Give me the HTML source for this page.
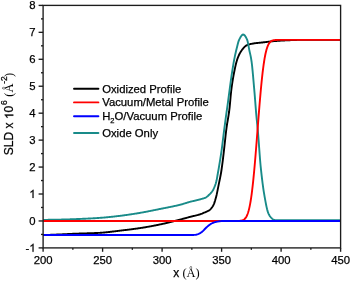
<!DOCTYPE html>
<html><head><meta charset="utf-8"><style>
html,body{margin:0;padding:0;background:#fff;width:350px;height:281px;overflow:hidden}
svg{display:block}
text{font-family:"Liberation Sans",sans-serif;font-size:11.3px;fill:#000}
.sf{font-family:"Liberation Serif",serif}
.tx{filter:grayscale(1)}
.tx text{stroke:#000;stroke-width:0.25px}
.tx text.sf{stroke-width:0}
</style></head><body>
<svg width="350" height="281" viewBox="0 0 350 281">
<defs><clipPath id="c"><rect x="43.1" y="5.4" width="297.5" height="242.5"/></clipPath></defs>
<g clip-path="url(#c)" fill="none" stroke-width="1.9" stroke-linejoin="round" stroke-linecap="butt">
<polyline points="43.10,235.10 43.60,235.08 44.10,235.06 44.60,235.04 45.10,235.03 45.60,235.01 46.10,234.99 46.60,234.97 47.10,234.95 47.60,234.93 48.10,234.92 48.60,234.90 49.10,234.88 49.60,234.86 50.10,234.84 50.60,234.82 51.10,234.80 51.60,234.78 52.10,234.76 52.60,234.74 53.10,234.72 53.60,234.70 54.10,234.68 54.60,234.66 55.10,234.64 55.60,234.62 56.10,234.59 56.60,234.57 57.10,234.55 57.60,234.53 58.10,234.51 58.60,234.49 59.10,234.47 59.60,234.45 60.10,234.42 60.60,234.40 61.10,234.38 61.60,234.36 62.10,234.33 62.60,234.31 63.10,234.28 63.60,234.26 64.10,234.23 64.60,234.21 65.10,234.18 65.60,234.16 66.10,234.13 66.60,234.11 67.10,234.08 67.60,234.05 68.10,234.03 68.60,234.00 69.10,233.98 69.60,233.95 70.10,233.93 70.60,233.90 71.10,233.88 71.60,233.86 72.10,233.84 72.60,233.81 73.10,233.79 73.60,233.77 74.10,233.75 74.60,233.73 75.10,233.71 75.60,233.69 76.10,233.67 76.60,233.66 77.10,233.64 77.60,233.62 78.10,233.60 78.60,233.59 79.10,233.57 79.60,233.55 80.10,233.54 80.60,233.52 81.10,233.51 81.60,233.49 82.10,233.47 82.60,233.46 83.10,233.44 83.60,233.43 84.10,233.41 84.60,233.40 85.10,233.38 85.60,233.37 86.10,233.35 86.60,233.34 87.10,233.32 87.60,233.30 88.10,233.29 88.60,233.27 89.10,233.26 89.60,233.24 90.10,233.22 90.60,233.21 91.10,233.19 91.60,233.17 92.10,233.15 92.60,233.13 93.10,233.12 93.60,233.10 94.10,233.08 94.60,233.06 95.10,233.04 95.60,233.02 96.10,233.00 96.60,232.98 97.10,232.96 97.60,232.93 98.10,232.91 98.60,232.89 99.10,232.86 99.60,232.83 100.10,232.81 100.60,232.77 101.10,232.74 101.60,232.71 102.10,232.67 102.60,232.63 103.10,232.59 103.60,232.55 104.10,232.50 104.60,232.46 105.10,232.41 105.60,232.36 106.10,232.31 106.60,232.26 107.10,232.20 107.60,232.15 108.10,232.10 108.60,232.04 109.10,231.98 109.60,231.93 110.10,231.87 110.60,231.81 111.10,231.75 111.60,231.69 112.10,231.63 112.60,231.56 113.10,231.50 113.60,231.44 114.10,231.38 114.60,231.32 115.10,231.25 115.60,231.19 116.10,231.13 116.60,231.07 117.10,231.01 117.60,230.94 118.10,230.88 118.60,230.82 119.10,230.76 119.60,230.70 120.10,230.64 120.60,230.59 121.10,230.53 121.60,230.47 122.10,230.41 122.60,230.35 123.10,230.29 123.60,230.23 124.10,230.17 124.60,230.11 125.10,230.06 125.60,230.00 126.10,229.94 126.60,229.88 127.10,229.82 127.60,229.75 128.10,229.69 128.60,229.63 129.10,229.57 129.60,229.51 130.10,229.45 130.60,229.38 131.10,229.32 131.60,229.26 132.10,229.19 132.60,229.13 133.10,229.06 133.60,229.00 134.10,228.93 134.60,228.86 135.10,228.80 135.60,228.73 136.10,228.66 136.60,228.59 137.10,228.52 137.60,228.45 138.10,228.38 138.60,228.30 139.10,228.23 139.60,228.16 140.10,228.08 140.60,228.01 141.10,227.93 141.60,227.85 142.10,227.77 142.60,227.69 143.10,227.61 143.60,227.53 144.10,227.45 144.60,227.37 145.10,227.28 145.60,227.20 146.10,227.11 146.60,227.03 147.10,226.94 147.60,226.85 148.10,226.76 148.60,226.67 149.10,226.58 149.60,226.49 150.10,226.40 150.60,226.31 151.10,226.22 151.60,226.12 152.10,226.03 152.60,225.94 153.10,225.84 153.60,225.74 154.10,225.65 154.60,225.55 155.10,225.45 155.60,225.35 156.10,225.25 156.60,225.15 157.10,225.05 157.60,224.95 158.10,224.85 158.60,224.75 159.10,224.64 159.60,224.54 160.10,224.44 160.60,224.33 161.10,224.23 161.60,224.12 162.10,224.01 162.60,223.90 163.10,223.79 163.60,223.68 164.10,223.56 164.60,223.45 165.10,223.33 165.60,223.22 166.10,223.10 166.60,222.98 167.10,222.86 167.60,222.74 168.10,222.62 168.60,222.50 169.10,222.38 169.60,222.25 170.10,222.13 170.60,222.01 171.10,221.88 171.60,221.76 172.10,221.63 172.60,221.50 173.10,221.38 173.60,221.25 174.10,221.12 174.60,221.00 175.10,220.87 175.60,220.74 176.10,220.61 176.60,220.48 177.10,220.35 177.60,220.23 178.10,220.10 178.60,219.97 179.10,219.84 179.60,219.71 180.10,219.58 180.60,219.45 181.10,219.32 181.60,219.19 182.10,219.06 182.60,218.92 183.10,218.79 183.60,218.65 184.10,218.51 184.60,218.38 185.10,218.24 185.60,218.10 186.10,217.97 186.60,217.83 187.10,217.69 187.60,217.56 188.10,217.42 188.60,217.29 189.10,217.15 189.60,217.02 190.10,216.89 190.60,216.76 191.10,216.63 191.60,216.51 192.10,216.39 192.60,216.27 193.10,216.15 193.60,216.04 194.10,215.92 194.60,215.80 195.10,215.68 195.60,215.56 196.10,215.44 196.60,215.32 197.10,215.19 197.60,215.06 198.10,214.92 198.60,214.78 199.10,214.63 199.60,214.48 200.10,214.32 200.60,214.15 201.10,213.97 201.60,213.78 202.10,213.59 202.60,213.38 203.10,213.17 203.60,212.96 204.10,212.74 204.60,212.51 205.10,212.29 205.60,212.06 206.10,211.84 206.60,211.63 207.10,211.42 207.60,211.19 208.10,210.95 208.60,210.68 209.10,210.38 209.60,210.03 210.10,209.60 210.60,209.08 211.10,208.50 211.60,207.88 212.10,207.22 212.60,206.50 213.10,205.68 213.60,204.73 214.10,203.58 214.60,202.18 215.10,200.58 215.60,198.82 216.10,196.94 216.60,194.92 217.10,192.59 217.60,190.11 218.10,187.64 218.60,185.12 219.10,182.67 219.60,180.29 220.10,177.87 220.60,175.29 221.10,172.46 221.60,169.24 222.10,165.67 222.60,161.86 223.10,157.91 223.60,153.62 224.10,149.21 224.60,144.68 225.10,140.03 225.60,135.45 226.10,131.14 226.60,127.27 227.10,123.95 227.60,120.99 228.10,118.13 228.60,115.13 229.10,111.74 229.60,107.58 230.10,102.34 230.60,96.77 231.10,91.70 231.60,87.71 232.10,84.16 232.60,80.92 233.10,77.93 233.60,75.17 234.10,72.55 234.60,70.04 235.10,67.63 235.60,65.38 236.10,63.30 236.60,61.43 237.10,59.79 237.60,58.34 238.10,57.02 238.60,55.84 239.10,54.76 239.60,53.79 240.10,52.88 240.60,52.02 241.10,51.22 241.60,50.48 242.10,49.78 242.60,49.14 243.10,48.55 243.60,47.96 244.10,47.40 244.60,46.87 245.10,46.39 245.60,45.98 246.10,45.65 246.60,45.41 247.10,45.18 247.60,44.98 248.10,44.79 248.60,44.61 249.10,44.45 249.60,44.30 250.10,44.16 250.60,44.03 251.10,43.92 251.60,43.81 252.10,43.71 252.60,43.61 253.10,43.53 253.60,43.45 254.10,43.37 254.60,43.30 255.10,43.24 255.60,43.18 256.10,43.12 256.60,43.07 257.10,43.02 257.60,42.97 258.10,42.92 258.60,42.87 259.10,42.82 259.60,42.76 260.10,42.71 260.60,42.65 261.10,42.59 261.60,42.54 262.10,42.48 262.60,42.43 263.10,42.37 263.60,42.32 264.10,42.26 264.60,42.20 265.10,42.15 265.60,42.09 266.10,42.03 266.60,41.97 267.10,41.91 267.60,41.85 268.10,41.78 268.60,41.72 269.10,41.65 269.60,41.59 270.10,41.53 270.60,41.47 271.10,41.41 271.60,41.35 272.10,41.30 272.60,41.25 273.10,41.21 273.60,41.17 274.10,41.13 274.60,41.08 275.10,41.04 275.60,41.01 276.10,40.97 276.60,40.93 277.10,40.89 277.60,40.86 278.10,40.82 278.60,40.79 279.10,40.76 279.60,40.73 280.10,40.69 280.60,40.66 281.10,40.63 281.60,40.60 282.10,40.58 282.60,40.55 283.10,40.52 283.60,40.50 284.10,40.47 284.60,40.45 285.10,40.42 285.60,40.40 286.10,40.38 286.60,40.35 287.10,40.33 287.60,40.30 288.10,40.28 288.60,40.25 289.10,40.23 289.60,40.20 290.10,40.18 290.60,40.16 291.10,40.13 291.60,40.11 292.10,40.09 292.60,40.07 293.10,40.05 293.60,40.03 294.10,40.01 294.60,39.99 295.10,39.97 295.60,39.96 296.10,39.94 296.60,39.93 297.10,39.92 297.60,39.91 298.10,39.90 298.60,39.90 299.10,39.89 299.60,39.89 300.10,39.89 300.60,39.89 301.10,39.89 301.60,39.89 302.10,39.89 302.60,39.89 303.10,39.89 303.60,39.89 304.10,39.89 304.60,39.89 305.10,39.89 305.60,39.89 306.10,39.89 306.60,39.89 307.10,39.89 307.60,39.89 308.10,39.89 308.60,39.89 309.10,39.89 309.60,39.89 310.10,39.89 310.60,39.89 311.10,39.89 311.60,39.89 312.10,39.89 312.60,39.89 313.10,39.89 313.60,39.89 314.10,39.89 314.60,39.89 315.10,39.89 315.60,39.89 316.10,39.89 316.60,39.89 317.10,39.89 317.60,39.89 318.10,39.89 318.60,39.89 319.10,39.89 319.60,39.89 320.10,39.89 320.60,39.89 321.10,39.89 321.60,39.89 322.10,39.89 322.60,39.89 323.10,39.89 323.60,39.89 324.10,39.89 324.60,39.89 325.10,39.89 325.60,39.89 326.10,39.89 326.60,39.89 327.10,39.89 327.60,39.89 328.10,39.89 328.60,39.89 329.10,39.89 329.60,39.89 330.10,39.89 330.60,39.89 331.10,39.89 331.60,39.89 332.10,39.89 332.60,39.89 333.10,39.89 333.60,39.89 334.10,39.89 334.60,39.89 335.10,39.89 335.60,39.89 336.10,39.89 336.60,39.89 337.10,39.89 337.60,39.89 338.10,39.89 338.60,39.89 339.10,39.89 339.60,39.89 340.10,39.89 340.60,39.89" stroke="#000" />
<polyline points="43.10,219.88 43.60,219.87 44.10,219.87 44.60,219.86 45.10,219.86 45.60,219.85 46.10,219.85 46.60,219.84 47.10,219.84 47.60,219.83 48.10,219.82 48.60,219.82 49.10,219.81 49.60,219.80 50.10,219.79 50.60,219.79 51.10,219.78 51.60,219.77 52.10,219.76 52.60,219.75 53.10,219.74 53.60,219.74 54.10,219.73 54.60,219.72 55.10,219.71 55.60,219.70 56.10,219.69 56.60,219.68 57.10,219.67 57.60,219.66 58.10,219.65 58.60,219.64 59.10,219.63 59.60,219.62 60.10,219.61 60.60,219.60 61.10,219.58 61.60,219.57 62.10,219.56 62.60,219.55 63.10,219.53 63.60,219.52 64.10,219.51 64.60,219.49 65.10,219.48 65.60,219.46 66.10,219.45 66.60,219.43 67.10,219.42 67.60,219.40 68.10,219.39 68.60,219.37 69.10,219.35 69.60,219.34 70.10,219.32 70.60,219.30 71.10,219.28 71.60,219.26 72.10,219.25 72.60,219.23 73.10,219.21 73.60,219.19 74.10,219.17 74.60,219.15 75.10,219.13 75.60,219.11 76.10,219.09 76.60,219.07 77.10,219.05 77.60,219.03 78.10,219.01 78.60,218.99 79.10,218.97 79.60,218.95 80.10,218.93 80.60,218.91 81.10,218.89 81.60,218.87 82.10,218.85 82.60,218.82 83.10,218.80 83.60,218.78 84.10,218.76 84.60,218.73 85.10,218.71 85.60,218.69 86.10,218.66 86.60,218.64 87.10,218.62 87.60,218.59 88.10,218.57 88.60,218.54 89.10,218.51 89.60,218.49 90.10,218.46 90.60,218.44 91.10,218.41 91.60,218.38 92.10,218.35 92.60,218.33 93.10,218.30 93.60,218.27 94.10,218.24 94.60,218.21 95.10,218.18 95.60,218.15 96.10,218.12 96.60,218.08 97.10,218.05 97.60,218.02 98.10,217.99 98.60,217.95 99.10,217.92 99.60,217.88 100.10,217.85 100.60,217.81 101.10,217.78 101.60,217.74 102.10,217.70 102.60,217.66 103.10,217.62 103.60,217.58 104.10,217.54 104.60,217.49 105.10,217.45 105.60,217.40 106.10,217.36 106.60,217.31 107.10,217.26 107.60,217.21 108.10,217.16 108.60,217.11 109.10,217.06 109.60,217.01 110.10,216.96 110.60,216.91 111.10,216.86 111.60,216.80 112.10,216.75 112.60,216.69 113.10,216.64 113.60,216.58 114.10,216.53 114.60,216.47 115.10,216.41 115.60,216.36 116.10,216.30 116.60,216.24 117.10,216.18 117.60,216.12 118.10,216.06 118.60,216.00 119.10,215.94 119.60,215.88 120.10,215.82 120.60,215.76 121.10,215.70 121.60,215.64 122.10,215.58 122.60,215.51 123.10,215.45 123.60,215.38 124.10,215.31 124.60,215.25 125.10,215.18 125.60,215.11 126.10,215.04 126.60,214.97 127.10,214.90 127.60,214.83 128.10,214.76 128.60,214.68 129.10,214.61 129.60,214.53 130.10,214.46 130.60,214.38 131.10,214.31 131.60,214.23 132.10,214.15 132.60,214.08 133.10,214.00 133.60,213.92 134.10,213.84 134.60,213.76 135.10,213.68 135.60,213.60 136.10,213.52 136.60,213.44 137.10,213.36 137.60,213.27 138.10,213.19 138.60,213.11 139.10,213.02 139.60,212.94 140.10,212.86 140.60,212.77 141.10,212.68 141.60,212.60 142.10,212.51 142.60,212.42 143.10,212.33 143.60,212.24 144.10,212.15 144.60,212.05 145.10,211.96 145.60,211.86 146.10,211.77 146.60,211.67 147.10,211.58 147.60,211.48 148.10,211.38 148.60,211.28 149.10,211.18 149.60,211.08 150.10,210.98 150.60,210.88 151.10,210.78 151.60,210.68 152.10,210.58 152.60,210.48 153.10,210.37 153.60,210.27 154.10,210.17 154.60,210.07 155.10,209.96 155.60,209.86 156.10,209.76 156.60,209.66 157.10,209.56 157.60,209.45 158.10,209.35 158.60,209.25 159.10,209.15 159.60,209.05 160.10,208.95 160.60,208.84 161.10,208.74 161.60,208.65 162.10,208.55 162.60,208.45 163.10,208.35 163.60,208.25 164.10,208.15 164.60,208.06 165.10,207.96 165.60,207.86 166.10,207.77 166.60,207.67 167.10,207.57 167.60,207.47 168.10,207.37 168.60,207.28 169.10,207.18 169.60,207.08 170.10,206.98 170.60,206.88 171.10,206.78 171.60,206.67 172.10,206.57 172.60,206.47 173.10,206.36 173.60,206.26 174.10,206.15 174.60,206.04 175.10,205.93 175.60,205.82 176.10,205.71 176.60,205.60 177.10,205.48 177.60,205.37 178.10,205.25 178.60,205.13 179.10,205.01 179.60,204.89 180.10,204.76 180.60,204.63 181.10,204.50 181.60,204.36 182.10,204.22 182.60,204.07 183.10,203.92 183.60,203.77 184.10,203.61 184.60,203.45 185.10,203.30 185.60,203.14 186.10,202.98 186.60,202.82 187.10,202.67 187.60,202.52 188.10,202.36 188.60,202.22 189.10,202.07 189.60,201.93 190.10,201.80 190.60,201.67 191.10,201.54 191.60,201.42 192.10,201.30 192.60,201.18 193.10,201.06 193.60,200.95 194.10,200.84 194.60,200.72 195.10,200.61 195.60,200.50 196.10,200.38 196.60,200.27 197.10,200.15 197.60,200.03 198.10,199.91 198.60,199.78 199.10,199.65 199.60,199.51 200.10,199.37 200.60,199.23 201.10,199.10 201.60,198.96 202.10,198.82 202.60,198.67 203.10,198.52 203.60,198.36 204.10,198.19 204.60,198.00 205.10,197.79 205.60,197.56 206.10,197.30 206.60,196.98 207.10,196.61 207.60,196.20 208.10,195.76 208.60,195.29 209.10,194.81 209.60,194.31 210.10,193.81 210.60,193.29 211.10,192.75 211.60,192.15 212.10,191.50 212.60,190.78 213.10,189.94 213.60,188.97 214.10,187.89 214.60,186.71 215.10,185.44 215.60,184.02 216.10,182.36 216.60,180.32 217.10,177.69 217.60,174.78 218.10,171.89 218.60,169.05 219.10,166.15 219.60,163.19 220.10,160.14 220.60,157.00 221.10,153.73 221.60,150.27 222.10,146.55 222.60,142.57 223.10,138.48 223.60,134.41 224.10,130.49 224.60,126.65 225.10,122.85 225.60,119.10 226.10,115.41 226.60,111.81 227.10,108.28 227.60,104.76 228.10,101.17 228.60,97.46 229.10,93.61 229.60,89.76 230.10,86.04 230.60,82.41 231.10,78.86 231.60,75.43 232.10,72.15 232.60,68.92 233.10,65.80 233.60,62.84 234.10,60.10 234.60,57.57 235.10,55.18 235.60,52.94 236.10,50.81 236.60,48.78 237.10,46.70 237.60,44.66 238.10,42.76 238.60,41.11 239.10,39.82 239.60,38.85 240.10,37.91 240.60,37.03 241.10,36.24 241.60,35.56 242.10,35.02 242.60,34.66 243.10,34.50 243.60,34.57 244.10,34.84 244.60,35.30 245.10,35.93 245.60,36.69 246.10,37.58 246.60,38.56 247.10,39.62 247.60,41.24 248.10,43.64 248.60,46.40 249.10,49.10 249.60,51.43 250.10,53.62 250.60,55.91 251.10,58.53 251.60,61.76 252.10,65.93 252.60,70.88 253.10,76.34 253.60,82.07 254.10,87.80 254.60,93.62 255.10,99.93 255.60,106.38 256.10,112.62 256.60,118.29 257.10,123.20 257.60,128.04 258.10,133.64 258.60,140.08 259.10,146.95 259.60,153.80 260.10,160.20 260.60,165.72 261.10,170.53 261.60,175.09 262.10,179.38 262.60,183.40 263.10,187.14 263.60,190.57 264.10,193.69 264.60,196.59 265.10,199.42 265.60,202.15 266.10,204.74 266.60,207.13 267.10,209.29 267.60,211.16 268.10,212.71 268.60,213.89 269.10,214.85 269.60,215.68 270.10,216.40 270.60,217.03 271.10,217.59 271.60,218.09 272.10,218.58 272.60,219.04 273.10,219.44 273.60,219.74 274.10,219.90 274.60,220.00 275.10,220.09 275.60,220.16 276.10,220.21 276.60,220.25 277.10,220.26 277.60,220.26 278.10,220.26 278.60,220.26 279.10,220.26 279.60,220.26 280.10,220.26 280.60,220.26 281.10,220.26 281.60,220.26 282.10,220.26 282.60,220.26 283.10,220.26 283.60,220.26 284.10,220.26 284.60,220.26 285.10,220.26 285.60,220.26 286.10,220.26 286.60,220.26 287.10,220.27 287.60,220.27 288.10,220.27 288.60,220.27 289.10,220.27 289.60,220.27 290.10,220.27 290.60,220.27 291.10,220.27 291.60,220.27 292.10,220.27 292.60,220.27 293.10,220.27 293.60,220.27 294.10,220.27 294.60,220.27 295.10,220.27 295.60,220.27 296.10,220.27 296.60,220.27 297.10,220.27 297.60,220.27 298.10,220.27 298.60,220.27 299.10,220.27 299.60,220.27 300.10,220.27 300.60,220.27 301.10,220.27 301.60,220.28 302.10,220.28 302.60,220.28 303.10,220.28 303.60,220.28 304.10,220.28 304.60,220.28 305.10,220.28 305.60,220.28 306.10,220.28 306.60,220.28 307.10,220.28 307.60,220.28 308.10,220.28 308.60,220.28 309.10,220.28 309.60,220.28 310.10,220.28 310.60,220.28 311.10,220.28 311.60,220.28 312.10,220.28 312.60,220.28 313.10,220.28 313.60,220.28 314.10,220.28 314.60,220.28 315.10,220.28 315.60,220.28 316.10,220.28 316.60,220.28 317.10,220.28 317.60,220.28 318.10,220.28 318.60,220.28 319.10,220.28 319.60,220.28 320.10,220.28 320.60,220.28 321.10,220.28 321.60,220.28 322.10,220.28 322.60,220.28 323.10,220.28 323.60,220.28 324.10,220.28 324.60,220.28 325.10,220.28 325.60,220.28 326.10,220.28 326.60,220.28 327.10,220.28 327.60,220.28 328.10,220.28 328.60,220.28 329.10,220.28 329.60,220.28 330.10,220.28 330.60,220.28 331.10,220.28 331.60,220.28 332.10,220.28 332.60,220.28 333.10,220.28 333.60,220.28 334.10,220.28 334.60,220.28 335.10,220.28 335.60,220.28 336.10,220.28 336.60,220.28 337.10,220.28 337.60,220.28 338.10,220.28 338.60,220.28 339.10,220.28 339.60,220.28 340.10,220.28 340.60,220.28" stroke="#198b89" />
<polyline points="43.10,220.96 43.60,220.96 44.10,220.96 44.60,220.96 45.10,220.96 45.60,220.96 46.10,220.96 46.60,220.96 47.10,220.96 47.60,220.96 48.10,220.96 48.60,220.96 49.10,220.96 49.60,220.96 50.10,220.96 50.60,220.96 51.10,220.96 51.60,220.96 52.10,220.96 52.60,220.96 53.10,220.96 53.60,220.96 54.10,220.96 54.60,220.96 55.10,220.96 55.60,220.96 56.10,220.96 56.60,220.96 57.10,220.96 57.60,220.96 58.10,220.96 58.60,220.96 59.10,220.96 59.60,220.96 60.10,220.96 60.60,220.96 61.10,220.96 61.60,220.96 62.10,220.96 62.60,220.96 63.10,220.96 63.60,220.96 64.10,220.96 64.60,220.96 65.10,220.96 65.60,220.96 66.10,220.96 66.60,220.96 67.10,220.96 67.60,220.96 68.10,220.96 68.60,220.96 69.10,220.96 69.60,220.96 70.10,220.96 70.60,220.96 71.10,220.96 71.60,220.96 72.10,220.96 72.60,220.96 73.10,220.96 73.60,220.96 74.10,220.96 74.60,220.96 75.10,220.96 75.60,220.96 76.10,220.96 76.60,220.96 77.10,220.96 77.60,220.96 78.10,220.96 78.60,220.96 79.10,220.96 79.60,220.96 80.10,220.96 80.60,220.96 81.10,220.96 81.60,220.96 82.10,220.96 82.60,220.96 83.10,220.96 83.60,220.96 84.10,220.96 84.60,220.96 85.10,220.96 85.60,220.96 86.10,220.96 86.60,220.96 87.10,220.96 87.60,220.96 88.10,220.96 88.60,220.96 89.10,220.96 89.60,220.96 90.10,220.96 90.60,220.96 91.10,220.96 91.60,220.96 92.10,220.96 92.60,220.96 93.10,220.96 93.60,220.96 94.10,220.96 94.60,220.96 95.10,220.96 95.60,220.96 96.10,220.96 96.60,220.96 97.10,220.96 97.60,220.96 98.10,220.96 98.60,220.96 99.10,220.96 99.60,220.96 100.10,220.96 100.60,220.96 101.10,220.96 101.60,220.96 102.10,220.96 102.60,220.96 103.10,220.96 103.60,220.96 104.10,220.96 104.60,220.96 105.10,220.96 105.60,220.96 106.10,220.96 106.60,220.96 107.10,220.96 107.60,220.96 108.10,220.96 108.60,220.96 109.10,220.96 109.60,220.96 110.10,220.96 110.60,220.96 111.10,220.96 111.60,220.96 112.10,220.96 112.60,220.96 113.10,220.96 113.60,220.96 114.10,220.96 114.60,220.96 115.10,220.96 115.60,220.96 116.10,220.96 116.60,220.96 117.10,220.96 117.60,220.96 118.10,220.96 118.60,220.96 119.10,220.96 119.60,220.96 120.10,220.96 120.60,220.96 121.10,220.96 121.60,220.96 122.10,220.96 122.60,220.96 123.10,220.96 123.60,220.96 124.10,220.96 124.60,220.96 125.10,220.96 125.60,220.96 126.10,220.96 126.60,220.96 127.10,220.96 127.60,220.96 128.10,220.96 128.60,220.96 129.10,220.96 129.60,220.96 130.10,220.96 130.60,220.96 131.10,220.96 131.60,220.96 132.10,220.96 132.60,220.96 133.10,220.96 133.60,220.96 134.10,220.96 134.60,220.96 135.10,220.96 135.60,220.96 136.10,220.96 136.60,220.96 137.10,220.96 137.60,220.96 138.10,220.96 138.60,220.96 139.10,220.96 139.60,220.96 140.10,220.96 140.60,220.96 141.10,220.96 141.60,220.96 142.10,220.96 142.60,220.96 143.10,220.96 143.60,220.96 144.10,220.96 144.60,220.96 145.10,220.96 145.60,220.96 146.10,220.96 146.60,220.96 147.10,220.96 147.60,220.96 148.10,220.96 148.60,220.96 149.10,220.96 149.60,220.96 150.10,220.96 150.60,220.96 151.10,220.96 151.60,220.96 152.10,220.96 152.60,220.96 153.10,220.96 153.60,220.96 154.10,220.96 154.60,220.96 155.10,220.96 155.60,220.96 156.10,220.96 156.60,220.96 157.10,220.96 157.60,220.96 158.10,220.96 158.60,220.96 159.10,220.96 159.60,220.96 160.10,220.96 160.60,220.96 161.10,220.96 161.60,220.96 162.10,220.96 162.60,220.96 163.10,220.96 163.60,220.96 164.10,220.96 164.60,220.96 165.10,220.96 165.60,220.96 166.10,220.96 166.60,220.96 167.10,220.96 167.60,220.96 168.10,220.96 168.60,220.96 169.10,220.96 169.60,220.96 170.10,220.96 170.60,220.96 171.10,220.96 171.60,220.96 172.10,220.96 172.60,220.96 173.10,220.96 173.60,220.96 174.10,220.96 174.60,220.96 175.10,220.96 175.60,220.96 176.10,220.96 176.60,220.96 177.10,220.96 177.60,220.96 178.10,220.96 178.60,220.96 179.10,220.96 179.60,220.96 180.10,220.96 180.60,220.96 181.10,220.96 181.60,220.96 182.10,220.96 182.60,220.96 183.10,220.96 183.60,220.96 184.10,220.96 184.60,220.96 185.10,220.96 185.60,220.96 186.10,220.96 186.60,220.96 187.10,220.96 187.60,220.96 188.10,220.96 188.60,220.96 189.10,220.96 189.60,220.96 190.10,220.96 190.60,220.96 191.10,220.96 191.60,220.96 192.10,220.96 192.60,220.96 193.10,220.96 193.60,220.96 194.10,220.96 194.60,220.96 195.10,220.96 195.60,220.96 196.10,220.96 196.60,220.96 197.10,220.96 197.60,220.96 198.10,220.96 198.60,220.96 199.10,220.96 199.60,220.96 200.10,220.96 200.60,220.96 201.10,220.96 201.60,220.96 202.10,220.96 202.60,220.96 203.10,220.96 203.60,220.96 204.10,220.96 204.60,220.96 205.10,220.96 205.60,220.96 206.10,220.96 206.60,220.96 207.10,220.96 207.60,220.96 208.10,220.96 208.60,220.96 209.10,220.96 209.60,220.96 210.10,220.96 210.60,220.96 211.10,220.96 211.60,220.96 212.10,220.96 212.60,220.96 213.10,220.96 213.60,220.96 214.10,220.96 214.60,220.96 215.10,220.96 215.60,220.96 216.10,220.96 216.60,220.96 217.10,220.96 217.60,220.96 218.10,220.96 218.60,220.96 219.10,220.96 219.60,220.96 220.10,220.96 220.60,220.96 221.10,220.96 221.60,220.96 222.10,220.96 222.60,220.96 223.10,220.96 223.60,220.96 224.10,220.96 224.60,220.96 225.10,220.96 225.60,220.96 226.10,220.96 226.60,220.96 227.10,220.96 227.60,220.96 228.10,220.96 228.60,220.96 229.10,220.96 229.60,220.96 230.10,220.96 230.60,220.96 231.10,220.96 231.60,220.96 232.10,220.96 232.60,220.95 233.10,220.95 233.60,220.95 234.10,220.95 234.60,220.95 235.10,220.95 235.60,220.95 236.10,220.94 236.60,220.94 237.10,220.93 237.60,220.92 238.10,220.91 238.60,220.89 239.10,220.86 239.60,220.83 240.10,220.78 240.60,220.73 241.10,220.65 241.60,220.55 242.10,220.42 242.60,220.25 243.10,220.04 243.60,219.77 244.10,219.44 244.60,219.03 245.10,218.53 245.60,217.91 246.10,217.17 246.60,216.28 247.10,215.23 247.60,213.98 248.10,212.51 248.60,210.82 249.10,208.86 249.60,206.62 250.10,204.08 250.60,201.23 251.10,198.04 251.60,194.51 252.10,190.64 252.60,186.41 253.10,181.84 253.60,176.94 254.10,171.73 254.60,166.22 255.10,160.46 255.60,154.47 256.10,148.29 256.60,141.98 257.10,135.58 257.60,129.13 258.10,122.70 258.60,116.32 259.10,110.06 259.60,103.96 260.10,98.05 260.60,92.39 261.10,86.99 261.60,81.90 262.10,77.13 262.60,72.70 263.10,68.62 263.60,64.88 264.10,61.49 264.60,58.43 265.10,55.71 265.60,53.29 266.10,51.17 266.60,49.32 267.10,47.72 267.60,46.34 268.10,45.17 268.60,44.19 269.10,43.36 269.60,42.67 270.10,42.10 270.60,41.64 271.10,41.26 271.60,40.96 272.10,40.72 272.60,40.52 273.10,40.37 273.60,40.25 274.10,40.16 274.60,40.09 275.10,40.04 275.60,40.00 276.10,39.97 276.60,39.95 277.10,39.93 277.60,39.92 278.10,39.91 278.60,39.90 279.10,39.90 279.60,39.90 280.10,39.89 280.60,39.89 281.10,39.89 281.60,39.89 282.10,39.89 282.60,39.89 283.10,39.89 283.60,39.89 284.10,39.89 284.60,39.89 285.10,39.89 285.60,39.89 286.10,39.89 286.60,39.89 287.10,39.89 287.60,39.89 288.10,39.89 288.60,39.89 289.10,39.89 289.60,39.89 290.10,39.89 290.60,39.89 291.10,39.89 291.60,39.89 292.10,39.89 292.60,39.89 293.10,39.89 293.60,39.89 294.10,39.89 294.60,39.89 295.10,39.89 295.60,39.89 296.10,39.89 296.60,39.89 297.10,39.89 297.60,39.89 298.10,39.89 298.60,39.89 299.10,39.89 299.60,39.89 300.10,39.89 300.60,39.89 301.10,39.89 301.60,39.89 302.10,39.89 302.60,39.89 303.10,39.89 303.60,39.89 304.10,39.89 304.60,39.89 305.10,39.89 305.60,39.89 306.10,39.89 306.60,39.89 307.10,39.89 307.60,39.89 308.10,39.89 308.60,39.89 309.10,39.89 309.60,39.89 310.10,39.89 310.60,39.89 311.10,39.89 311.60,39.89 312.10,39.89 312.60,39.89 313.10,39.89 313.60,39.89 314.10,39.89 314.60,39.89 315.10,39.89 315.60,39.89 316.10,39.89 316.60,39.89 317.10,39.89 317.60,39.89 318.10,39.89 318.60,39.89 319.10,39.89 319.60,39.89 320.10,39.89 320.60,39.89 321.10,39.89 321.60,39.89 322.10,39.89 322.60,39.89 323.10,39.89 323.60,39.89 324.10,39.89 324.60,39.89 325.10,39.89 325.60,39.89 326.10,39.89 326.60,39.89 327.10,39.89 327.60,39.89 328.10,39.89 328.60,39.89 329.10,39.89 329.60,39.89 330.10,39.89 330.60,39.89 331.10,39.89 331.60,39.89 332.10,39.89 332.60,39.89 333.10,39.89 333.60,39.89 334.10,39.89 334.60,39.89 335.10,39.89 335.60,39.89 336.10,39.89 336.60,39.89 337.10,39.89 337.60,39.89 338.10,39.89 338.60,39.89 339.10,39.89 339.60,39.89 340.10,39.89 340.60,39.89" stroke="#ff0000" />
<polyline points="43.10,234.97 43.60,234.97 44.10,234.97 44.60,234.97 45.10,234.97 45.60,234.97 46.10,234.97 46.60,234.97 47.10,234.97 47.60,234.97 48.10,234.97 48.60,234.97 49.10,234.97 49.60,234.97 50.10,234.97 50.60,234.97 51.10,234.97 51.60,234.97 52.10,234.97 52.60,234.97 53.10,234.97 53.60,234.97 54.10,234.97 54.60,234.97 55.10,234.97 55.60,234.97 56.10,234.97 56.60,234.97 57.10,234.97 57.60,234.97 58.10,234.97 58.60,234.97 59.10,234.97 59.60,234.97 60.10,234.97 60.60,234.97 61.10,234.97 61.60,234.97 62.10,234.97 62.60,234.97 63.10,234.97 63.60,234.97 64.10,234.97 64.60,234.97 65.10,234.97 65.60,234.97 66.10,234.97 66.60,234.97 67.10,234.97 67.60,234.97 68.10,234.97 68.60,234.97 69.10,234.97 69.60,234.97 70.10,234.97 70.60,234.97 71.10,234.97 71.60,234.97 72.10,234.97 72.60,234.97 73.10,234.97 73.60,234.97 74.10,234.97 74.60,234.97 75.10,234.97 75.60,234.97 76.10,234.97 76.60,234.97 77.10,234.97 77.60,234.97 78.10,234.97 78.60,234.97 79.10,234.97 79.60,234.97 80.10,234.97 80.60,234.97 81.10,234.97 81.60,234.97 82.10,234.97 82.60,234.97 83.10,234.97 83.60,234.97 84.10,234.97 84.60,234.97 85.10,234.97 85.60,234.97 86.10,234.97 86.60,234.97 87.10,234.97 87.60,234.97 88.10,234.97 88.60,234.97 89.10,234.97 89.60,234.97 90.10,234.97 90.60,234.97 91.10,234.97 91.60,234.97 92.10,234.97 92.60,234.97 93.10,234.97 93.60,234.97 94.10,234.97 94.60,234.97 95.10,234.97 95.60,234.97 96.10,234.97 96.60,234.97 97.10,234.97 97.60,234.97 98.10,234.97 98.60,234.97 99.10,234.97 99.60,234.97 100.10,234.97 100.60,234.97 101.10,234.97 101.60,234.97 102.10,234.97 102.60,234.97 103.10,234.97 103.60,234.97 104.10,234.97 104.60,234.97 105.10,234.97 105.60,234.97 106.10,234.97 106.60,234.97 107.10,234.97 107.60,234.97 108.10,234.97 108.60,234.97 109.10,234.97 109.60,234.97 110.10,234.97 110.60,234.97 111.10,234.97 111.60,234.97 112.10,234.97 112.60,234.97 113.10,234.97 113.60,234.97 114.10,234.97 114.60,234.97 115.10,234.97 115.60,234.97 116.10,234.97 116.60,234.97 117.10,234.97 117.60,234.97 118.10,234.97 118.60,234.97 119.10,234.97 119.60,234.97 120.10,234.97 120.60,234.97 121.10,234.97 121.60,234.97 122.10,234.97 122.60,234.97 123.10,234.97 123.60,234.97 124.10,234.97 124.60,234.97 125.10,234.97 125.60,234.97 126.10,234.97 126.60,234.97 127.10,234.97 127.60,234.97 128.10,234.97 128.60,234.97 129.10,234.97 129.60,234.97 130.10,234.97 130.60,234.97 131.10,234.97 131.60,234.97 132.10,234.97 132.60,234.97 133.10,234.97 133.60,234.97 134.10,234.97 134.60,234.97 135.10,234.97 135.60,234.97 136.10,234.97 136.60,234.97 137.10,234.97 137.60,234.97 138.10,234.97 138.60,234.97 139.10,234.97 139.60,234.97 140.10,234.97 140.60,234.97 141.10,234.97 141.60,234.97 142.10,234.97 142.60,234.97 143.10,234.97 143.60,234.97 144.10,234.97 144.60,234.97 145.10,234.97 145.60,234.97 146.10,234.97 146.60,234.97 147.10,234.97 147.60,234.97 148.10,234.97 148.60,234.97 149.10,234.97 149.60,234.97 150.10,234.97 150.60,234.97 151.10,234.97 151.60,234.97 152.10,234.97 152.60,234.97 153.10,234.97 153.60,234.97 154.10,234.97 154.60,234.97 155.10,234.97 155.60,234.97 156.10,234.97 156.60,234.97 157.10,234.97 157.60,234.97 158.10,234.97 158.60,234.97 159.10,234.97 159.60,234.97 160.10,234.97 160.60,234.97 161.10,234.97 161.60,234.97 162.10,234.97 162.60,234.97 163.10,234.97 163.60,234.97 164.10,234.97 164.60,234.97 165.10,234.97 165.60,234.97 166.10,234.97 166.60,234.97 167.10,234.97 167.60,234.97 168.10,234.97 168.60,234.97 169.10,234.97 169.60,234.97 170.10,234.97 170.60,234.97 171.10,234.97 171.60,234.97 172.10,234.97 172.60,234.97 173.10,234.97 173.60,234.97 174.10,234.97 174.60,234.97 175.10,234.97 175.60,234.97 176.10,234.97 176.60,234.97 177.10,234.97 177.60,234.97 178.10,234.97 178.60,234.97 179.10,234.97 179.60,234.97 180.10,234.97 180.60,234.97 181.10,234.97 181.60,234.97 182.10,234.97 182.60,234.97 183.10,234.97 183.60,234.97 184.10,234.97 184.60,234.97 185.10,234.97 185.60,234.97 186.10,234.97 186.60,234.97 187.10,234.97 187.60,234.97 188.10,234.97 188.60,234.97 189.10,234.97 189.60,234.97 190.10,234.97 190.60,234.97 191.10,234.97 191.60,234.97 192.10,234.97 192.60,234.96 193.10,234.95 193.60,234.94 194.10,234.91 194.60,234.89 195.10,234.86 195.60,234.82 196.10,234.75 196.60,234.63 197.10,234.47 197.60,234.30 198.10,234.12 198.60,233.92 199.10,233.69 199.60,233.42 200.10,233.14 200.60,232.83 201.10,232.49 201.60,232.15 202.10,231.77 202.60,231.34 203.10,230.85 203.60,230.32 204.10,229.78 204.60,229.24 205.10,228.72 205.60,228.23 206.10,227.76 206.60,227.29 207.10,226.83 207.60,226.37 208.10,225.94 208.60,225.52 209.10,225.14 209.60,224.79 210.10,224.45 210.60,224.11 211.10,223.80 211.60,223.51 212.10,223.24 212.60,223.00 213.10,222.80 213.60,222.62 214.10,222.45 214.60,222.29 215.10,222.14 215.60,222.00 216.10,221.87 216.60,221.75 217.10,221.65 217.60,221.56 218.10,221.48 218.60,221.41 219.10,221.34 219.60,221.27 220.10,221.20 220.60,221.14 221.10,221.09 221.60,221.04 222.10,221.00 222.60,220.98 223.10,220.96 223.60,220.96 224.10,220.96 224.60,220.96 225.10,220.96 225.60,220.96 226.10,220.96 226.60,220.96 227.10,220.96 227.60,220.96 228.10,220.96 228.60,220.96 229.10,220.96 229.60,220.96 230.10,220.96 230.60,220.96 231.10,220.96 231.60,220.96 232.10,220.96 232.60,220.96 233.10,220.96 233.60,220.96 234.10,220.96 234.60,220.96 235.10,220.96 235.60,220.96 236.10,220.96 236.60,220.96 237.10,220.96 237.60,220.96 238.10,220.96 238.60,220.96 239.10,220.96 239.60,220.96 240.10,220.96 240.60,220.96 241.10,220.96 241.60,220.96 242.10,220.96 242.60,220.96 243.10,220.96 243.60,220.96 244.10,220.96 244.60,220.96 245.10,220.96 245.60,220.96 246.10,220.96 246.60,220.96 247.10,220.96 247.60,220.96 248.10,220.96 248.60,220.96 249.10,220.96 249.60,220.96 250.10,220.96 250.60,220.96 251.10,220.96 251.60,220.96 252.10,220.96 252.60,220.96 253.10,220.96 253.60,220.96 254.10,220.96 254.60,220.96 255.10,220.96 255.60,220.96 256.10,220.96 256.60,220.96 257.10,220.96 257.60,220.96 258.10,220.96 258.60,220.96 259.10,220.96 259.60,220.96 260.10,220.96 260.60,220.96 261.10,220.96 261.60,220.96 262.10,220.96 262.60,220.96 263.10,220.96 263.60,220.96 264.10,220.96 264.60,220.96 265.10,220.96 265.60,220.96 266.10,220.96 266.60,220.96 267.10,220.96 267.60,220.96 268.10,220.96 268.60,220.96 269.10,220.96 269.60,220.96 270.10,220.96 270.60,220.96 271.10,220.96 271.60,220.96 272.10,220.96 272.60,220.96 273.10,220.96 273.60,220.96 274.10,220.96 274.60,220.96 275.10,220.96 275.60,220.96 276.10,220.96 276.60,220.96 277.10,220.96 277.60,220.96 278.10,220.96 278.60,220.96 279.10,220.96 279.60,220.96 280.10,220.96 280.60,220.96 281.10,220.96 281.60,220.96 282.10,220.96 282.60,220.96 283.10,220.96 283.60,220.96 284.10,220.96 284.60,220.96 285.10,220.96 285.60,220.96 286.10,220.96 286.60,220.96 287.10,220.96 287.60,220.96 288.10,220.96 288.60,220.96 289.10,220.96 289.60,220.96 290.10,220.96 290.60,220.96 291.10,220.96 291.60,220.96 292.10,220.96 292.60,220.96 293.10,220.96 293.60,220.96 294.10,220.96 294.60,220.96 295.10,220.96 295.60,220.96 296.10,220.96 296.60,220.96 297.10,220.96 297.60,220.96 298.10,220.96 298.60,220.96 299.10,220.96 299.60,220.96 300.10,220.96 300.60,220.96 301.10,220.96 301.60,220.96 302.10,220.96 302.60,220.96 303.10,220.96 303.60,220.96 304.10,220.96 304.60,220.96 305.10,220.96 305.60,220.96 306.10,220.96 306.60,220.96 307.10,220.96 307.60,220.96 308.10,220.96 308.60,220.96 309.10,220.96 309.60,220.96 310.10,220.96 310.60,220.96 311.10,220.96 311.60,220.96 312.10,220.96 312.60,220.96 313.10,220.96 313.60,220.96 314.10,220.96 314.60,220.96 315.10,220.96 315.60,220.96 316.10,220.96 316.60,220.96 317.10,220.96 317.60,220.96 318.10,220.96 318.60,220.96 319.10,220.96 319.60,220.96 320.10,220.96 320.60,220.96 321.10,220.96 321.60,220.96 322.10,220.96 322.60,220.96 323.10,220.96 323.60,220.96 324.10,220.96 324.60,220.96 325.10,220.96 325.60,220.96 326.10,220.96 326.60,220.96 327.10,220.96 327.60,220.96 328.10,220.96 328.60,220.96 329.10,220.96 329.60,220.96 330.10,220.96 330.60,220.96 331.10,220.96 331.60,220.96 332.10,220.96 332.60,220.96 333.10,220.96 333.60,220.96 334.10,220.96 334.60,220.96 335.10,220.96 335.60,220.96 336.10,220.96 336.60,220.96 337.10,220.96 337.60,220.96 338.10,220.96 338.60,220.96 339.10,220.96 339.60,220.96 340.10,220.96 340.60,220.96" stroke="#0000ff" />
</g>
<g stroke="#1c1c1c" stroke-width="1.35" fill="none">
<rect x="43.1" y="5.4" width="297.50" height="242.50"/>
<line x1="38.6" y1="5.40" x2="43.10" y2="5.40"/>
<line x1="41" y1="18.87" x2="43.10" y2="18.87"/>
<line x1="38.6" y1="32.34" x2="43.10" y2="32.34"/>
<line x1="41" y1="45.82" x2="43.10" y2="45.82"/>
<line x1="38.6" y1="59.29" x2="43.10" y2="59.29"/>
<line x1="41" y1="72.76" x2="43.10" y2="72.76"/>
<line x1="38.6" y1="86.23" x2="43.10" y2="86.23"/>
<line x1="41" y1="99.71" x2="43.10" y2="99.71"/>
<line x1="38.6" y1="113.18" x2="43.10" y2="113.18"/>
<line x1="41" y1="126.65" x2="43.10" y2="126.65"/>
<line x1="38.6" y1="140.12" x2="43.10" y2="140.12"/>
<line x1="41" y1="153.59" x2="43.10" y2="153.59"/>
<line x1="38.6" y1="167.07" x2="43.10" y2="167.07"/>
<line x1="41" y1="180.54" x2="43.10" y2="180.54"/>
<line x1="38.6" y1="194.01" x2="43.10" y2="194.01"/>
<line x1="41" y1="207.48" x2="43.10" y2="207.48"/>
<line x1="38.6" y1="220.96" x2="43.10" y2="220.96"/>
<line x1="41" y1="234.43" x2="43.10" y2="234.43"/>
<line x1="38.6" y1="247.90" x2="43.10" y2="247.90"/>
<line x1="43.10" y1="247.90" x2="43.10" y2="251.8"/>
<line x1="72.85" y1="247.90" x2="72.85" y2="249.8"/>
<line x1="102.60" y1="247.90" x2="102.60" y2="251.8"/>
<line x1="132.35" y1="247.90" x2="132.35" y2="249.8"/>
<line x1="162.10" y1="247.90" x2="162.10" y2="251.8"/>
<line x1="191.85" y1="247.90" x2="191.85" y2="249.8"/>
<line x1="221.60" y1="247.90" x2="221.60" y2="251.8"/>
<line x1="251.35" y1="247.90" x2="251.35" y2="249.8"/>
<line x1="281.10" y1="247.90" x2="281.10" y2="251.8"/>
<line x1="310.85" y1="247.90" x2="310.85" y2="249.8"/>
<line x1="340.60" y1="247.90" x2="340.60" y2="251.8"/>
</g>
<line x1="74.0" y1="88.8" x2="98.4" y2="88.8" stroke="#000" stroke-width="1.9" stroke-linecap="round"/>
<line x1="74.0" y1="102.4" x2="98.4" y2="102.4" stroke="#ff0000" stroke-width="1.9" stroke-linecap="round"/>
<line x1="74.0" y1="116.3" x2="98.4" y2="116.3" stroke="#0000ff" stroke-width="1.9" stroke-linecap="round"/>
<line x1="74.0" y1="133.0" x2="98.4" y2="133.0" stroke="#198b89" stroke-width="1.9" stroke-linecap="round"/>
<g class="tx">
<text x="35.6" y="9.30" text-anchor="end">8</text>
<text x="35.6" y="36.24" text-anchor="end">7</text>
<text x="35.6" y="63.19" text-anchor="end">6</text>
<text x="35.6" y="90.13" text-anchor="end">5</text>
<text x="35.6" y="117.08" text-anchor="end">4</text>
<text x="35.6" y="144.02" text-anchor="end">3</text>
<text x="35.6" y="170.97" text-anchor="end">2</text>
<path transform="translate(29.315,197.911) scale(0.00552,-0.00552)" d="M763 0H583V1147Q518 1085 412.5 1023Q307 961 223 930V1104Q374 1175 487 1276Q600 1377 647 1472H763Z" fill="#000" stroke="#000" stroke-width="45.3"/>
<text x="35.6" y="224.86" text-anchor="end">0</text>
<text x="25.55" y="251.80">-</text>
<path transform="translate(29.315,251.800) scale(0.00552,-0.00552)" d="M763 0H583V1147Q518 1085 412.5 1023Q307 961 223 930V1104Q374 1175 487 1276Q600 1377 647 1472H763Z" fill="#000" stroke="#000" stroke-width="45.3"/>
<text x="43.10" y="264.3" text-anchor="middle">200</text>
<text x="102.60" y="264.3" text-anchor="middle">250</text>
<text x="162.10" y="264.3" text-anchor="middle">300</text>
<text x="221.60" y="264.3" text-anchor="middle">350</text>
<text x="281.10" y="264.3" text-anchor="middle">400</text>
<text x="340.60" y="264.3" text-anchor="middle">450</text>
<text x="102.2" y="92.5">Oxidized Profile</text>
<text x="102.2" y="106.1">Vacuum/Metal Profile</text>
<text x="102.2" y="120.0">H<tspan font-size="7.5" dy="3">2</tspan><tspan dy="-3">O/Vacuum Profile</tspan></text>
<text x="102.2" y="136.7">Oxide Only</text>
<g transform="translate(13.3,155.3) rotate(-90)">
<text x="0" y="0" style="font-size:12px">SLD</text><text x="26.9" y="0" style="font-size:12px">x </text><path transform="translate(36.234,0.000) scale(0.00586,-0.00586)" d="M763 0H583V1147Q518 1085 412.5 1023Q307 961 223 930V1104Q374 1175 487 1276Q600 1377 647 1472H763Z" fill="#000" stroke="#000" stroke-width="42.7"/><text x="42.91" y="0" style="font-size:12px">0</text>
<text x="50.4" y="-6.4" style="font-size:8.5px">6</text>
<text x="58.6" y="0" class="sf" style="font-size:12.5px">(Å</text>
<text x="71.6" y="-6.4" style="font-size:8.5px">-2</text>
<text x="78.3" y="0" class="sf" style="font-size:12.5px">)</text>
</g>
<text x="173.3" y="277.1" style="font-size:12px">x</text>
<text x="182.4" y="277.1" class="sf" style="font-size:12.5px">(Å)</text>
</g>
</svg>
</body></html>
